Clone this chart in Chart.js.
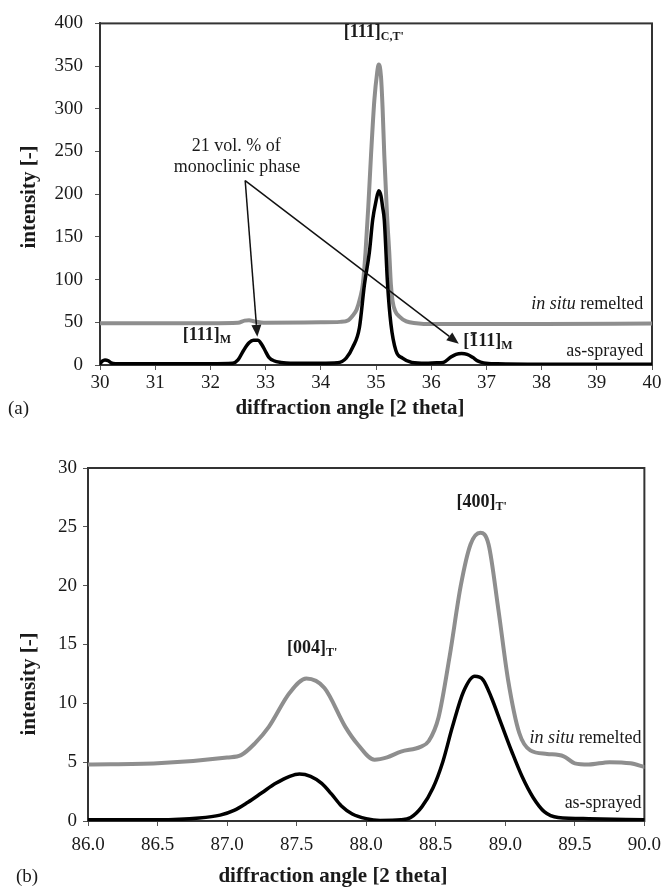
<!DOCTYPE html>
<html>
<head>
<meta charset="utf-8">
<script src="https://cdn.jsdelivr.net/npm/chart.js@4.4.1/dist/chart.umd.min.js"></script>
<style>
  html, body { margin: 0; padding: 0; background: #fff; }
  body { width: 669px; height: 888px; position: relative; overflow: hidden; }
  .panel { position: absolute; left: 0; width: 669px; }
</style>
</head>
<body>
<div class="panel" style="top:0;height:425px"><canvas id="chartA"></canvas></div>
<div class="panel" style="top:440px;height:448px"><canvas id="chartB"></canvas></div>
<script>
// (a) 30-40 deg range
const xTicksA = [30, 31, 32, 33, 34, 35, 36, 37, 38, 39, 40];
const yTicksA = [0, 50, 100, 150, 200, 250, 300, 350, 400];

const angleRemeltedA = [30.0, 31.0, 32.0, 32.5, 32.62, 32.7, 32.8, 33.0, 34.0, 34.35, 34.5, 34.57, 34.65,
  34.71, 34.76, 34.81, 34.86, 34.91, 34.97, 35.02, 35.05, 35.09, 35.12, 35.15, 35.2, 35.24, 35.27, 35.3,
  35.35, 35.42, 35.55, 35.73, 36.0, 38.0, 40.0];
const remeltedA = [49, 49, 49, 49.5, 52, 52.5, 51, 49.5, 50, 50.5, 52.5, 57, 65,
  78, 94, 132, 185, 246, 310, 342, 352, 338, 300, 246, 175, 132, 94, 75,
  63, 57, 51, 49, 48, 48, 48.5];

const angleSprayedA = [30.0, 30.04, 30.09, 30.15, 30.2, 30.28, 31.0, 32.0, 32.4, 32.5, 32.6, 32.7, 32.78,
  32.86, 32.93, 32.99, 33.06, 33.15, 33.28, 33.45, 34.0, 34.3, 34.46, 34.58, 34.7, 34.79, 34.88, 34.94,
  35.0, 35.05, 35.09, 35.12, 35.15, 35.21, 35.27, 35.36, 35.48, 35.65, 35.9, 36.1, 36.22, 36.35, 36.45,
  36.55, 36.65, 36.75, 36.85, 36.95, 37.2, 38.0, 40.0];
const sprayedA = [1.5, 4.5, 6, 5, 2.5, 1.5, 1.5, 1.5, 2, 6, 17, 26, 29,
  29, 24, 17, 9, 5, 3, 2, 2, 2.5, 8, 21, 44, 94, 132, 170,
  192, 204, 198, 185, 170, 94, 48, 17, 8, 3, 2, 2.5, 3, 9, 12.5,
  13.5, 12.5, 9, 4.5, 2.5, 1.5, 1, 1];

// (b) 86-90 deg range
const xTicksB = [86.0, 86.5, 87.0, 87.5, 88.0, 88.5, 89.0, 89.5, 90.0];
const yTicksB = [0, 5, 10, 15, 20, 25, 30];

const angleRemeltedB = [86.0, 86.5, 87.0, 87.1, 87.2, 87.3, 87.45, 87.57, 87.7, 87.85, 87.94, 88.06,
  88.15, 88.25, 88.39, 88.45, 88.52, 88.6, 88.68, 88.75, 88.82, 88.88, 88.95, 89.02, 89.1, 89.18,
  89.3, 89.42, 89.5, 89.6, 89.75, 89.9, 90.0];
const remeltedB = [4.8, 4.9, 5.4, 5.6, 6.6, 8.0, 10.9, 12.1, 11.3, 8.0, 6.5, 5.2,
  5.4, 5.9, 6.3, 6.8, 8.8, 14, 20, 23.5, 24.5, 23.5, 18, 12, 7.5, 6.0,
  5.7, 5.5, 4.9, 4.8, 5.0, 4.9, 4.6];

const angleSprayedB = [86.0, 86.5, 86.8, 86.95, 87.05, 87.15, 87.25, 87.35, 87.45, 87.52, 87.6, 87.68,
  87.75, 87.82, 87.9, 88.0, 88.1, 88.25, 88.32, 88.4, 88.48, 88.55, 88.62, 88.7, 88.78, 88.84, 88.9,
  88.97, 89.05, 89.12, 89.2, 89.28, 89.38, 89.6, 90.0];
const sprayedB = [0.1, 0.1, 0.25, 0.5, 0.9, 1.6, 2.4, 3.2, 3.8, 4.0, 3.8, 3.2,
  2.3, 1.3, 0.6, 0.2, 0.05, 0.1, 0.3, 1.2, 2.8, 5, 8, 11, 12.3, 12.0, 10.5,
  8.3, 5.8, 3.8, 2.0, 0.8, 0.3, 0.2, 0.1];

const serif = '"Liberation Serif", "Times New Roman", serif';
const F = {
  reg: '18px ' + serif,
  ital: 'italic 18px ' + serif,
  bold: 'bold 18px ' + serif,
  sub: 'bold 12px ' + serif,
  title: 'bold 21px ' + serif,
  panel: '19px ' + serif
};
const GRAY = '#8e8e8e';
const INK = '#1a1a1a';

// peak labels and notes, placed in data coordinates
const notesA = [
  { x: 34.96, y: 390, align: 'center', parts: [{ t: '[111]', f: F.bold }, { t: "C,T'", f: F.sub, dy: 5 }] },
  { x: 32.47, y: 256, align: 'center', parts: [{ t: '21 vol. % of', f: F.reg }] },
  { x: 32.48, y: 231, align: 'center', parts: [{ t: 'monoclinic phase', f: F.reg }] },
  { x: 31.5, y: 35, align: 'left', parts: [{ t: '[111]', f: F.bold }, { t: 'M', f: F.sub, dy: 5 }] },
  { x: 36.58, y: 28, align: 'left', parts: [{ t: '[', f: F.bold }, { t: '1', f: F.bold, bar: true },
    { t: '11]', f: F.bold }, { t: 'M', f: F.sub, dy: 5 }] },
  { x: 39.84, y: 71, align: 'right', parts: [{ t: 'in situ', f: F.ital }, { t: ' remelted', f: F.reg }] },
  { x: 39.84, y: 16, align: 'right', parts: [{ t: 'as-sprayed', f: F.reg }] }
];
const arrowsA = [
  { from: [32.63, 216], to: [32.85, 33] },
  { from: [32.63, 216], to: [36.5, 25] }
];
const notesB = [
  { x: 88.65, y: 27.1, align: 'left', parts: [{ t: '[400]', f: F.bold }, { t: "T'", f: F.sub, dy: 5 }] },
  { x: 87.43, y: 14.7, align: 'left', parts: [{ t: '[004]', f: F.bold }, { t: "T'", f: F.sub, dy: 5 }] },
  { x: 89.98, y: 7.0, align: 'right', parts: [{ t: 'in situ', f: F.ital }, { t: ' remelted', f: F.reg }] },
  { x: 89.98, y: 1.5, align: 'right', parts: [{ t: 'as-sprayed', f: F.reg }] }
];

function drawRich(ctx, parts, x, y, align) {
  let width = 0;
  parts.forEach(p => { ctx.font = p.f; width += ctx.measureText(p.t).width; });
  let cx = align === 'center' ? x - width / 2 : align === 'right' ? x - width : x;
  parts.forEach(p => {
    ctx.font = p.f;
    const w = ctx.measureText(p.t).width;
    ctx.fillText(p.t, cx, y + (p.dy || 0));
    if (p.bar) {
      ctx.fillRect(cx + 1.5, y - 9, w - 3, 1.7);
    }
    cx += w;
  });
}

function drawArrow(ctx, x1, y1, x2, y2) {
  const ang = Math.atan2(y2 - y1, x2 - x1);
  const len = 12, half = 5;
  const bx = x2 - len * Math.cos(ang), by = y2 - len * Math.sin(ang);
  ctx.beginPath();
  ctx.moveTo(x1, y1);
  ctx.lineTo(bx, by);
  ctx.stroke();
  ctx.beginPath();
  ctx.moveTo(x2, y2);
  ctx.lineTo(bx + half * Math.sin(ang), by - half * Math.cos(ang));
  ctx.lineTo(bx - half * Math.sin(ang), by + half * Math.cos(ang));
  ctx.closePath();
  ctx.fill();
}

// frame, axis titles, peak labels and arrows
const decor = {
  id: 'decor',
  beforeDatasetsDraw(chart) {
    const { ctx, chartArea: a } = chart;
    ctx.save();
    ctx.strokeStyle = '#333';
    ctx.lineWidth = 2;
    ctx.strokeRect(a.left, a.top, a.right - a.left, a.bottom - a.top);
    ctx.restore();
  },
  afterDatasetsDraw(chart, args, opts) {
    const { ctx, scales: { x, y } } = chart;
    ctx.save();
    ctx.fillStyle = INK;
    ctx.strokeStyle = '#111';
    ctx.lineWidth = 1.5;
    (opts.arrows || []).forEach(ar => {
      drawArrow(ctx, x.getPixelForValue(ar.from[0]), y.getPixelForValue(ar.from[1]),
        x.getPixelForValue(ar.to[0]), y.getPixelForValue(ar.to[1]));
    });
    ctx.textBaseline = 'middle';
    opts.notes.forEach(n => {
      drawRich(ctx, n.parts, x.getPixelForValue(n.x), y.getPixelForValue(n.y), n.align);
    });
    // axis titles and panel letter
    ctx.textAlign = 'left';
    ctx.font = F.title;
    const tw = ctx.measureText(opts.xTitle).width;
    ctx.fillText(opts.xTitle, opts.xTitleAt[0] - tw / 2, opts.xTitleAt[1]);
    ctx.font = F.panel;
    ctx.fillText(opts.panel, opts.panelAt[0], opts.panelAt[1]);
    ctx.save();
    ctx.translate(opts.yTitleAt[0], opts.yTitleAt[1]);
    ctx.rotate(-Math.PI / 2);
    ctx.font = F.title;
    const yw = ctx.measureText(opts.yTitle).width;
    ctx.fillText(opts.yTitle, -yw / 2, 0);
    ctx.restore();
    ctx.restore();
  }
};

function makeSeries(xs, ys) {
  return xs.map((v, i) => ({ x: v, y: ys[i] }));
}

function axisX(ticks, height, pad, fmt) {
  return {
    type: 'linear',
    min: ticks[0],
    max: ticks[ticks.length - 1],
    afterBuildTicks: s => { s.ticks = ticks.map(v => ({ value: v })); },
    afterFit: s => { s.height = height; },
    grid: { display: true, drawOnChartArea: false, tickLength: 5, color: '#555' },
    border: { display: true, color: '#444', width: 2 },
    ticks: { padding: pad, color: INK, font: { family: serif, size: 19 }, maxRotation: 0,
      callback: v => fmt(v) }
  };
}

function axisY(ticks, width, pad) {
  return {
    type: 'linear',
    min: ticks[0],
    max: ticks[ticks.length - 1],
    afterBuildTicks: s => { s.ticks = ticks.map(v => ({ value: v })); },
    afterFit: s => { s.width = width; },
    grid: { display: true, drawOnChartArea: false, tickLength: 5, color: '#555' },
    border: { display: true, color: '#555', width: 2 },
    ticks: { padding: pad, color: INK, font: { family: serif, size: 19 } }
  };
}

function lineSet(label, data, color, width, order) {
  return {
    label, data, order,
    borderColor: color,
    borderWidth: width,
    pointRadius: 0,
    fill: false,
    cubicInterpolationMode: 'monotone',
    borderCapStyle: 'round',
    borderJoinStyle: 'round'
  };
}

new Chart(document.getElementById('chartA'), {
  type: 'line',
  data: {
    datasets: [
      lineSet('in situ remelted', makeSeries(angleRemeltedA, remeltedA), GRAY, 4, 2),
      lineSet('as-sprayed', makeSeries(angleSprayedA, sprayedA), '#000', 3.5, 1)
    ]
  },
  options: {
    responsive: true,
    maintainAspectRatio: false,
    animation: false,
    layout: { padding: { top: 16, right: 17, left: 0, bottom: 0 } },
    scales: {
      x: axisX(xTicksA, 60, 2, v => String(v)),
      y: axisY(yTicksA, 100, 12)
    },
    plugins: {
      legend: { display: false },
      tooltip: { enabled: false },
      decor: {
        notes: notesA,
        arrows: arrowsA,
        xTitle: 'diffraction angle [2 theta]', xTitleAt: [350, 409],
        yTitle: 'intensity [-]', yTitleAt: [30, 197],
        panel: '(a)', panelAt: [8, 409]
      }
    }
  },
  plugins: [decor]
});

new Chart(document.getElementById('chartB'), {
  type: 'line',
  data: {
    datasets: [
      lineSet('in situ remelted', makeSeries(angleRemeltedB, remeltedB), GRAY, 4, 2),
      lineSet('as-sprayed', makeSeries(angleSprayedB, sprayedB), '#000', 3.5, 1)
    ]
  },
  options: {
    responsive: true,
    maintainAspectRatio: false,
    animation: false,
    layout: { padding: { top: 28, right: 23, left: 0, bottom: 0 } },
    scales: {
      x: axisX(xTicksB, 67, 8, v => v.toFixed(1)),
      y: axisY(yTicksB, 88, 6)
    },
    plugins: {
      legend: { display: false },
      tooltip: { enabled: false },
      decor: {
        notes: notesB,
        xTitle: 'diffraction angle [2 theta]', xTitleAt: [333, 437],
        yTitle: 'intensity [-]', yTitleAt: [30, 244],
        panel: '(b)', panelAt: [16, 437]
      }
    }
  },
  plugins: [decor]
});
</script>
</body>
</html>
